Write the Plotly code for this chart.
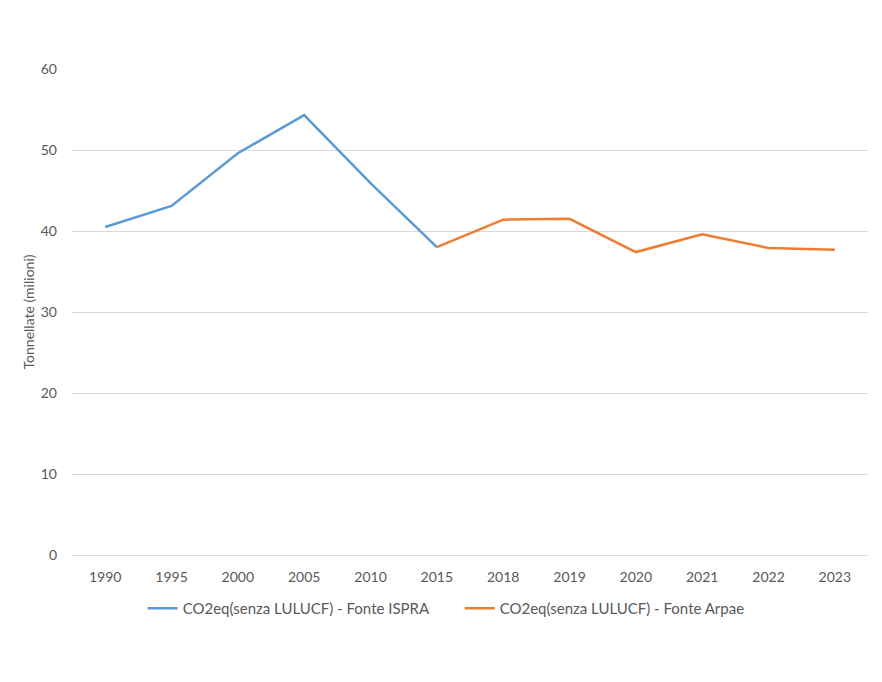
import plotly.graph_objects as go

# Emissioni CO2eq (milioni di tonnellate)
anni = ["1990", "1995", "2000", "2005", "2010", "2015",
        "2018", "2019", "2020", "2021", "2022", "2023"]
ispra = [40.5, 43.1, 49.6, 54.3, 45.9, 38.0,
         None, None, None, None, None, None]
arpae = [None, None, None, None, None, 38.0,
         41.4, 41.5, 37.4, 39.6, 37.9, 37.7]

font_family = "Lato, 'Open Sans', sans-serif"
grey = "#595959"

fig = go.Figure()
fig.add_trace(go.Scatter(x=anni, y=ispra, mode="lines",
                         name="CO2eq(senza LULUCF) - Fonte ISPRA",
                         line=dict(color="#5b9bd5", width=2.5)))
fig.add_trace(go.Scatter(x=anni, y=arpae, mode="lines",
                         name="CO2eq(senza LULUCF) - Fonte Arpae",
                         line=dict(color="#ed7d31", width=2.5)))

# page has an 8px body margin, so the figure is a bit smaller than the window
fig.update_layout(
    width=866, height=666,
    margin=dict(l=64, r=6, t=61, b=119),
    plot_bgcolor="white", paper_bgcolor="white",
    font=dict(family=font_family, size=14, color=grey),
    showlegend=True,
    legend=dict(orientation="h", x=0.487, xanchor="center", y=-0.076, yanchor="top",
                font=dict(size=15, color=grey), itemwidth=30,
                entrywidth=272, entrywidthmode="pixels"),
    xaxis=dict(type="category", range=[-0.5, 11.5], showgrid=False, showline=False,
               zeroline=False, ticks="", ticklabelstandoff=12,
               tickfont=dict(size=14, color=grey)),
    yaxis=dict(range=[0, 60], dtick=10, showgrid=True, gridcolor="#d9d9d9",
               gridwidth=1, zeroline=True, zerolinecolor="#d9d9d9", zerolinewidth=1,
               showline=False, ticks="", ticklabelstandoff=14,
               title=dict(text="Tonnellate (milioni)", standoff=2,
                          font=dict(size=14, color=grey)),
               tickfont=dict(size=14, color=grey)),
)

fig.write_html("out.html")
